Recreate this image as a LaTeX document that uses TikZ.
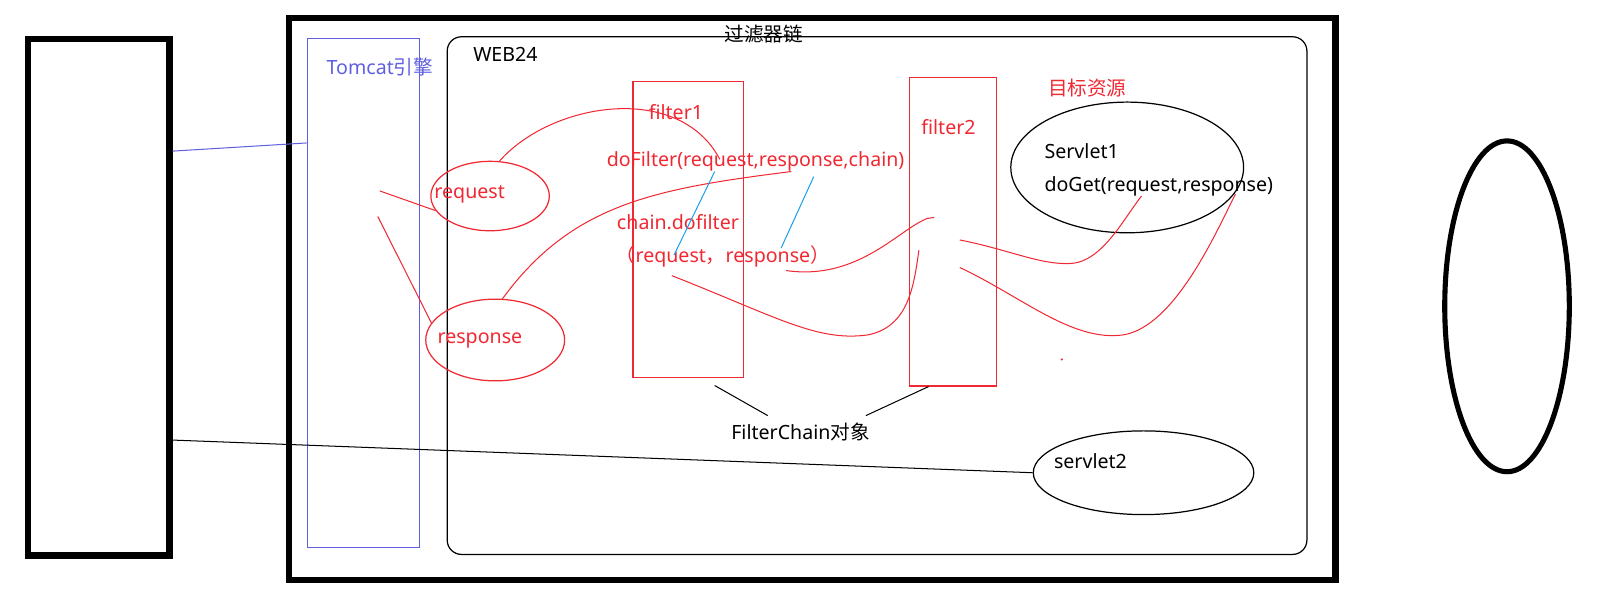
\documentclass[tikz,border=0pt]{standalone}
\usepackage{fontspec}
\setmainfont{Noto Sans}
\newfontfamily\cjk{Noto Sans CJK SC}
\usetikzlibrary{shapes.geometric}

\definecolor{penred}{RGB}{240,40,50}
\definecolor{penblue}{RGB}{95,95,225}
\definecolor{pencyan}{RGB}{30,160,230}

\begin{document}
\begin{tikzpicture}[x=0.5pt, y=-0.5pt, font=\fontsize{9.6}{11}\selectfont,
    heavy/.style={draw, line width=3pt, inner sep=0pt},
    redbox/.style={draw=penred, line width=0.6pt, inner sep=0pt},
    redring/.style={ellipse, draw=penred, line width=0.6pt, inner sep=0pt},
    blackring/.style={ellipse, draw, line width=0.6pt, inner sep=0pt},
    redtext/.style={text=penred},
    ink/.style={line width=0.5pt}]
    \useasboundingbox (0,0) rectangle (1570,595);

    % boxes
    \node[heavy, minimum width=69.5pt, minimum height=253pt] (client) at (96.5,291) {};
    \node[heavy, minimum width=512.5pt, minimum height=275pt] (server) at (795.5,293) {};
    \node[heavy, ellipse, line width=2.5pt, minimum width=61pt, minimum height=162pt] (browser) at (1476,300) {};
    \node[draw=penblue, line width=0.6pt, minimum width=55pt, minimum height=249pt] (tomcat) at (356,287) {};
    \node[draw, line width=0.6pt, rounded corners=7pt, minimum width=421pt, minimum height=253.5pt] (web) at (859,289.5) {};
    \node[redbox, minimum width=54pt, minimum height=145pt] (fbox1) at (674,225) {};
    \node[redbox, minimum width=42.5pt, minimum height=151pt] (fbox2) at (933.5,227) {};
    \node[blackring, minimum width=114pt, minimum height=64pt] (sring1) at (1104,164) {};
    \node[blackring, minimum width=108pt, minimum height=41pt] (sring2) at (1120,463) {};
    \node[redring, minimum width=58pt, minimum height=34pt] (reqring) at (480,192) {};
    \node[redring, minimum width=68pt, minimum height=40pt] (respring) at (485,333) {};

    % texts
    \node[text=penblue] (tomcatlbl) at (372,66) {Tomcat{\cjk 引擎}};
    \node (weblbl) at (495,53) {WEB24};
    \node (chainlbl) at (748,33) {\cjk 过滤器链};
    \node[redtext] (f1lbl) at (662,110) {filter1};
    \node[redtext] (dofilter) at (740,158) {doFilter(request,response,chain)};
    \node[redtext] (chaincall) at (664,218) {chain.dofilter};
    \node[redtext] (chainargs) at (708,251) {{\cjk （}request{\cjk ，}response{\cjk ）}};
    \node[redtext] (f2lbl) at (929,124) {filter2};
    \node[redtext] (targetlbl) at (1065,86) {\cjk 目标资源};
    \node[anchor=west] (s1name) at (1016,148) {Servlet1};
    \node[anchor=west] (s1call) at (1016,183) {doGet(request,response)};
    \node (s2name) at (1068,452) {servlet2};
    \node[redtext] (reqlbl) at (460,190) {request};
    \node[redtext] (resplbl) at (470,333) {response};
    \node (fcobj) at (784,423) {FilterChain{\cjk 对象}};

    % free ends
    \coordinate (reqin) at (372,187);
    \coordinate (respout) at (370,212);
    \coordinate (f1req) at (705,156);
    \coordinate (f1resp) at (775,168);
    \coordinate (f2a) at (915,213);
    \coordinate (f2b) at (900,245);
    \coordinate (f2c) at (940,235);
    \coordinate (f2d) at (940,262);
    \coordinate (s1a) at (1118,192);
    \coordinate (s1b) at (1210,190);

    % outer connectors
    \draw[penblue, ink] ([yshift=71.5pt]client.east) -- ([yshift=73.5pt]tomcat.west);
    \draw[ink] ([yshift=-70pt]client.east) -- (sring2.west);
    \draw[ink] ([xshift=13pt, yshift=-3.5pt]fbox1.south) -- ([xshift=-16pt]fcobj.north);
    \draw[ink] ([xshift=-12pt]fbox2.south) -- ([xshift=32pt]fcobj.north);

    % request / response paths
    \draw[penred, ink] (reqin) -- (reqring.195);
    \draw[penred, ink] (respout) -- (respring.165);
    \draw[penred, ink] (reqring.75) .. controls (540,100) and (665,80) .. (f1req);
    \draw[penred, ink] (respring.80) .. controls (560,200) and (640,185) .. (f1resp);
    \draw[pencyan, ink] (700,168) -- (660,250);
    \draw[pencyan, ink] (797,173) -- (765,243);
    \draw[penred, ink] (770,265) .. controls (840,275) and (880,225) .. (908,214) -- (f2a);
    \draw[penred, ink] (658,270) .. controls (760,310) and (800,335) .. (850,328)
        .. controls (890,320) and (895,280) .. (f2b);
    \draw[penred, ink] (f2c) .. controls (990,245) and (1020,260) .. (1050,258)
        .. controls (1080,255) and (1100,215) .. (s1a);
    \draw[penred, ink] (f2d) .. controls (1000,290) and (1050,335) .. (1100,328)
        .. controls (1150,320) and (1190,230) .. (s1b);
    \fill[penred] (1040,352) circle (0.6pt);
\end{tikzpicture}
\end{document}
